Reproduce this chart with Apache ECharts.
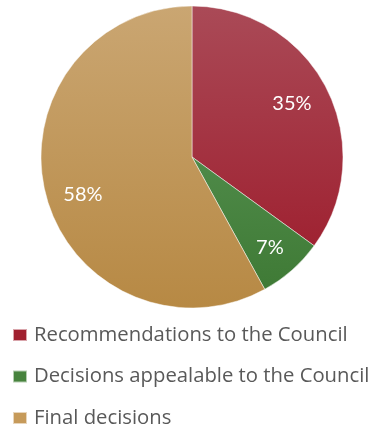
<!DOCTYPE html>
<html><head><meta charset="utf-8">
<script src="https://cdn.jsdelivr.net/npm/echarts@6/dist/echarts.min.js"></script>
<style>html,body{margin:0;padding:0;background:#fff}#c{width:380px;height:436px}</style>
</head><body><div id="c"></div>
<script>
const categories = ['Recommendations to the Council', 'Decisions appealable to the Council', 'Final decisions'];
const values = [35, 7, 58];
const gradTop = ['#AA4A57', '#609C5E', '#CAA672'];
const gradBottom = ['#9C1828', '#3D7833', '#B78944'];
const legendColors = ['#A0202F', '#47833D', '#C69A5A'];
const labelShift = [[30, -18], [26, 32], [-33, 18]];

const chart = echarts.init(document.getElementById('c'), null, {renderer: 'canvas'});
const cx = 192, cy = 157, r = 151;
chart.setOption({
  animation: false,
  legend: {
    orient: 'vertical', left: 12, top: 325, padding: 0, height: 111,
    itemWidth: 14, itemHeight: 12, itemGap: 21.5,
    icon: 'rect',
    textStyle: {color: '#595959', fontSize: 20.3, fontFamily: 'Open Sans', lineHeight: 20, padding: [0,0,0,2]},
    data: categories.map((c, i) => ({name: c, itemStyle: {color: legendColors[i]}}))
  },
  series: [{
    type: 'pie',
    center: [cx, cy], radius: [0, r],
    startAngle: 90, clockwise: true,
    label: {show: true, position: 'inside', formatter: '{d}%', color: '#fff', fontSize: 20, fontFamily: 'Lato'},
    labelLine: {show: false},
    labelLayout: function (p) { const s = labelShift[p.dataIndex]; return {dx: s[0], dy: s[1]}; },
    itemStyle: {borderColor: 'rgba(255,255,255,0.6)', borderWidth: 0.8},
    emphasis: {disabled: true},
    data: categories.map((c, i) => ({
      name: c, value: values[i],
      itemStyle: {color: new echarts.graphic.LinearGradient(0, cy - r, 0, cy + r, [
        {offset: 0, color: gradTop[i]}, {offset: 1, color: gradBottom[i]}], true)}
    }))
  }]
});
</script></body></html>
